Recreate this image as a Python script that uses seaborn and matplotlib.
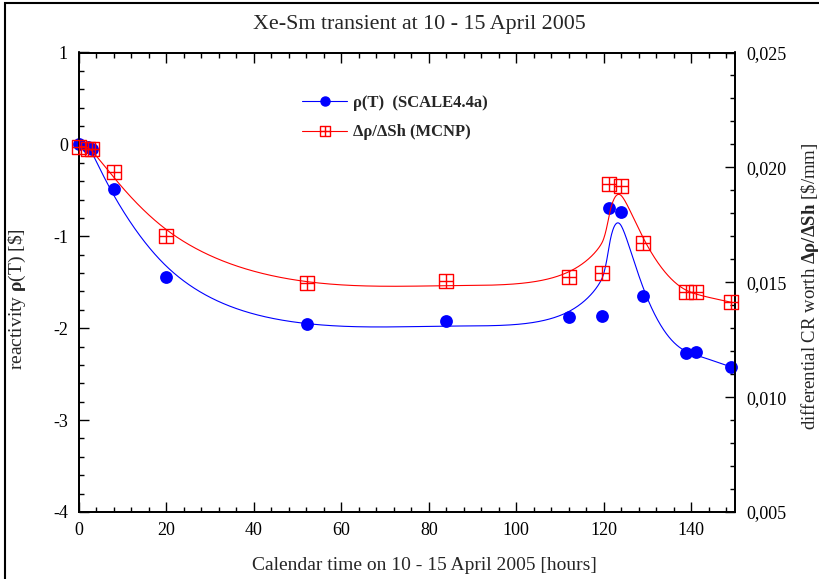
import numpy as np
import matplotlib
matplotlib.use("Agg")
import matplotlib.pyplot as plt
from matplotlib.path import Path
from matplotlib.lines import Line2D
from matplotlib.patches import Rectangle
from matplotlib.ticker import MultipleLocator, FuncFormatter
import seaborn as sns

# Calendar time [hours] and reactivity from SCALE4.4a
t_scale = [0.0, 2.0, 3.0, 8.0, 19.9, 52.1, 83.9, 112.0, 119.7, 121.3, 123.9, 128.9, 138.9, 141.0, 149.0]
rho_scale = [0.0, -0.03, -0.05, -0.485, -1.443, -1.95, -1.92, -1.88, -1.87, -0.69, -0.735, -1.65, -2.27, -2.26, -2.42]

# Differential control-rod worth from MCNP [$/mm]
t_mcnp = [0.0, 2.0, 3.0, 8.0, 19.9, 52.1, 83.9, 112.0, 119.7, 121.3, 123.9, 128.9, 138.9, 141.0, 149.0]
worth_mcnp = [0.0209, 0.0208, 0.0208, 0.0198, 0.0170, 0.01497, 0.01505, 0.01523, 0.0154,
              0.01928, 0.01919, 0.01671, 0.01458, 0.01458, 0.01414]

title = "Xe-Sm transient at 10 - 15 April 2005"
xlabel = "Calendar time on 10 - 15 April 2005 [hours]"
ylabel_left = r"reactivity $\mathbf{ρ}$(T) [\$]"
ylabel_right = r"differential CR worth $\mathbf{Δρ/ΔSh}$ [\$/mm]"
legend_labels = ["ρ(T)  (SCALE4.4a)", "Δρ/ΔSh (MCNP)"]


def smooth_curve(x, y, c=0.04, power=3, n=1500):
    """Penalised smoothing spline on a fine grid; the roughness penalty
    scales with the local sampling interval so sparse stretches are smoothed
    more than densely sampled ones."""
    x = np.asarray(x, float)
    y = np.asarray(y, float)
    xg = np.linspace(x.min(), x.max(), n)
    h = xg[1] - xg[0]
    B = np.zeros((len(x), n))
    idx = np.clip(np.searchsorted(xg, x) - 1, 0, n - 2)
    frac = (x - xg[idx]) / h
    B[np.arange(len(x)), idx] += 1 - frac
    B[np.arange(len(x)), idx + 1] += frac
    spacing = np.gradient(x)
    lam = np.interp(xg[1:-1], x, c * spacing ** power)
    D = np.diff(np.eye(n), 2, axis=0)
    A = B.T @ B + D.T @ (lam[:, None] * D) / h ** 3
    f = np.linalg.solve(A, B.T @ y)
    return xg, f


sns.set_theme(style="ticks")
plt.rcParams["font.family"] = ["Liberation Serif", "DejaVu Serif"]
plt.rcParams["mathtext.fontset"] = "custom"
plt.rcParams["mathtext.rm"] = "Liberation Serif"
plt.rcParams["mathtext.it"] = "Liberation Serif:italic"
plt.rcParams["mathtext.bf"] = "Liberation Serif:bold"
plt.rcParams["axes.unicode_minus"] = False

fig = plt.figure(figsize=(8.19, 5.79), dpi=100)
ax = fig.add_axes([79 / 819, 1 - 512 / 579, 656 / 819, 459.5 / 579])
ax2 = ax.twinx()

# smoothed trend curves
xs, fs = smooth_curve(t_scale, rho_scale)
xm, fm = smooth_curve(t_mcnp, worth_mcnp)
sns.lineplot(x=xs, y=fs, ax=ax, color="blue", lw=0.8, sort=False)
sns.lineplot(x=xm, y=fm, ax=ax2, color="red", lw=0.8, sort=False)

# data points
sns.scatterplot(x=t_scale, y=rho_scale, ax=ax, color="blue", s=85,
                edgecolor="blue", linewidth=0, zorder=5, clip_on=False)

box_plus = Path(
    [(-1, -1), (1, -1), (1, 1), (-1, 1), (-1, -1), (0, -1), (0, 1), (-1, 0), (1, 0)],
    [Path.MOVETO, Path.LINETO, Path.LINETO, Path.LINETO, Path.CLOSEPOLY,
     Path.MOVETO, Path.LINETO, Path.MOVETO, Path.LINETO],
)
ax2.plot(t_mcnp, worth_mcnp, ls="none", marker=box_plus, markersize=9.5,
         markerfacecolor="none", markeredgecolor="red", markeredgewidth=1.0,
         zorder=5, clip_on=False)

# axes ranges and ticks
ax.set_xlim(0, 150)
ax.set_ylim(-4, 1)
ax2.set_ylim(0.005, 0.025)
ax.xaxis.set_major_locator(MultipleLocator(20))
ax.xaxis.set_minor_locator(MultipleLocator(4))
ax.yaxis.set_major_locator(MultipleLocator(1))
ax.yaxis.set_minor_locator(MultipleLocator(0.2))
ax2.yaxis.set_major_locator(MultipleLocator(0.005))
ax2.yaxis.set_minor_locator(MultipleLocator(0.001))
ax.yaxis.set_major_formatter(FuncFormatter(lambda v, p: f"{v:g}"))
ax.xaxis.set_major_formatter(FuncFormatter(lambda v, p: f"{v:g}"))
ax2.yaxis.set_major_formatter(FuncFormatter(lambda v, p: f"{v:.3f}".replace(".", ",")))

for a in (ax, ax2):
    for sp in a.spines.values():
        sp.set_linewidth(1.3)
        sp.set_color("black")
ax.tick_params(axis="x", which="both", direction="in", top=True, bottom=True,
               labelsize=13, pad=7, colors="black")
ax.tick_params(axis="y", which="both", direction="in", left=True, right=False,
               labelsize=13, pad=8, colors="black")
ax2.tick_params(axis="y", which="both", direction="in", right=True, left=False,
                labelsize=13, pad=8, colors="black")
for a in (ax, ax2):
    a.tick_params(which="major", length=7, width=1.0)
    a.tick_params(which="minor", length=3.8, width=1.0)

ax.set_xlabel(xlabel, fontsize=14)
ax.xaxis.set_label_coords(0.527, -0.098)
ax.set_ylabel(ylabel_left, fontsize=14)
ax.yaxis.set_label_coords(-0.078, 0.464)
ax2.set_ylabel(ylabel_right, fontsize=13.5)
ax2.yaxis.set_label_coords(1.097, 0.49)

fig.text(419 / 819, 1 - 25 / 579, title, ha="center", va="center", fontsize=15.8)

handles = [
    Line2D([], [], color="blue", lw=0.8, marker="o", markersize=6.5,
           markerfacecolor="blue", markeredgecolor="blue"),
    Line2D([], [], color="red", lw=0.8, marker=box_plus, markersize=6.5,
           markerfacecolor="none", markeredgecolor="red", markeredgewidth=1.0),
]
ax2.legend(handles, legend_labels, loc="center left", bbox_to_anchor=(0.340, 0.858),
           frameon=False, borderpad=0, borderaxespad=0, handlelength=2.7,
           handletextpad=0.35, labelspacing=0.8,
           prop={"family": "Liberation Serif", "weight": "bold", "size": 12})

# outer frame of the figure
fig.patches.append(Rectangle((5 / 819, -0.1), 1.2, 1.1 - 3 / 579, transform=fig.transFigure,
                             fill=False, edgecolor="black", linewidth=1.5))

fig.savefig("out.png", dpi=100)
